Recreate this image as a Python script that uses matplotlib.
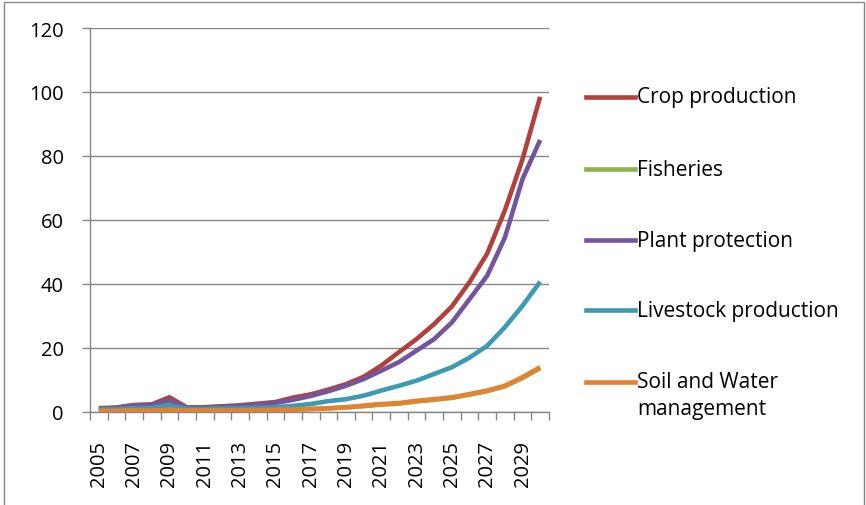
import matplotlib.pyplot as plt
from matplotlib.lines import Line2D
from matplotlib.patches import Rectangle
import numpy as np

plt.rcParams['font.family'] = ['Open Sans', 'DejaVu Sans']

years = list(range(2005, 2031))

crop = [1.2, 1.4, 2.2, 2.4, 4.6, 1.4, 1.5, 1.8, 2.1, 2.6, 3.1, 4.5, 5.5, 7.0,
        8.7, 11.0, 14.5, 18.7, 22.8, 27.5, 33.0, 40.6, 49.5, 63.0, 79.0, 98.5]
fisheries = [0.3, 0.3, 0.4, 0.4, 0.6, 0.4, 0.4, 0.4, 0.4, 0.5, 0.6, 0.7, 0.9, 1.1,
             1.4, 1.8, 2.3, 2.6, 3.3, 3.8, 4.4, 5.4, 6.5, 8.0, 10.6, 13.7]
plant = [1.0, 1.2, 2.0, 2.2, 3.6, 1.3, 1.4, 1.6, 1.9, 2.3, 2.8, 3.8, 5.0, 6.5,
         8.2, 10.3, 12.9, 15.6, 19.2, 22.8, 28.0, 35.3, 42.6, 54.5, 72.8, 85.0]
livestock = [0.9, 0.9, 1.2, 1.3, 2.1, 1.0, 1.0, 1.1, 1.2, 1.3, 1.5, 1.9, 2.5, 3.4,
             4.0, 5.1, 6.7, 8.2, 9.8, 11.9, 14.0, 17.0, 20.7, 26.5, 33.2, 40.7]
soil = [0.4, 0.4, 0.5, 0.5, 0.7, 0.5, 0.5, 0.5, 0.5, 0.6, 0.7, 0.8, 1.0, 1.2,
        1.5, 2.0, 2.5, 2.8, 3.5, 4.0, 4.6, 5.6, 6.7, 8.2, 10.9, 14.0]

series = [
    ("Crop production", crop, "#B0413E"),
    ("Fisheries", fisheries, "#8DB24E"),
    ("Plant protection", plant, "#72559B"),
    ("Livestock production", livestock, "#3C9BB2"),
    ("Soil and Water\nmanagement", soil, "#E58232"),
]

W, H = 866, 506
FS = 14.5
fig = plt.figure(figsize=(W / 100, H / 100), dpi=100)
ax = fig.add_axes([90 / W, 1 - 413 / H, 459 / W, 384 / H])

grid_col = "#868686"
x = np.arange(len(years))
for name, vals, col in series:
    ax.plot(x, vals, color=col, lw=3.3, solid_capstyle="butt", zorder=3)

ax.set_xlim(-0.5, len(years) - 0.5)
ax.set_ylim(0, 120)
ax.set_yticks(range(0, 121, 20))
ax.yaxis.grid(True, color=grid_col, lw=1)
ax.set_axisbelow(True)

# category boundaries carry the tick marks, labels sit at every other category
ax.set_xticks(np.arange(-0.5, len(years), 1))
ax.set_xticklabels([])
ax.set_xticks(x[::2], minor=True)
ax.set_xticklabels([str(y) for y in years[::2]], minor=True, rotation=90)
ax.tick_params(axis="x", which="major", length=6, color=grid_col, width=1)
ax.tick_params(axis="x", which="minor", length=0, pad=20, labelsize=FS)
ax.tick_params(axis="y", length=6, color=grid_col, width=1, pad=13, labelsize=FS)

for side in ("top", "right"):
    ax.spines[side].set_visible(False)
for side in ("left", "bottom"):
    ax.spines[side].set_color(grid_col)
    ax.spines[side].set_linewidth(1)

# legend drawn at fixed pixel rows on the figure
legend_y = [98, 170, 241, 311, 383]
for (name, vals, col), py in zip(series, legend_y):
    fy = 1 - py / H
    fig.add_artist(Line2D([586 / W, 635 / W], [fy, fy], color=col, lw=3.3,
                          transform=fig.transFigure))
    lines = name.split("\n")
    for i, line in enumerate(lines):
        fig.text(637 / W, 1 - (py + 27 * i) / H, line, fontsize=15,
                 va="center", ha="left")

fig.add_artist(Rectangle((4 / W, -0.05), 860 / W, 1.05 - 2.5 / H, fill=False,
                         edgecolor=grid_col, lw=1, transform=fig.transFigure))

fig.savefig("out.png", dpi=100)
